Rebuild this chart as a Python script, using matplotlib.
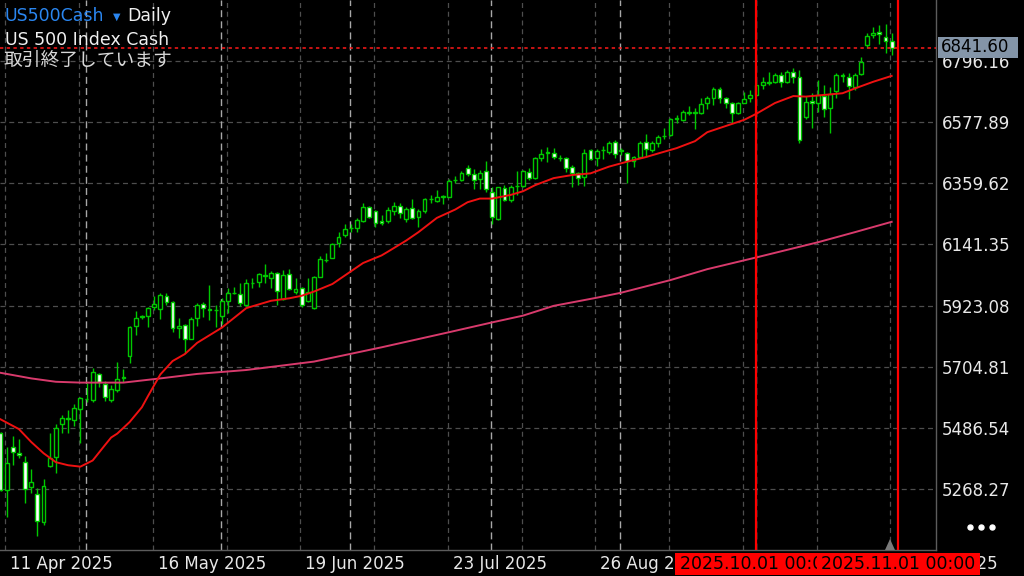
import matplotlib
import numpy as np
import pandas as pd

matplotlib.use("Agg")
import matplotlib.pyplot as plt  # noqa: E402
import matplotlib.transforms as mtransforms  # noqa: E402
from matplotlib.lines import Line2D  # noqa: E402
from matplotlib.patches import Polygon, Rectangle  # noqa: E402

plt.rcParams['font.family'] = ['DejaVu Sans', 'Noto Sans CJK JP']

# US500Cash daily bars, 10 Apr - 31 Oct 2025 (no bar on Good Friday)
DATES = pd.bdate_range("2025-04-10", "2025-10-31")
DATES = DATES[DATES != pd.Timestamp("2025-04-18")]

OPEN = [5468, 5265, 5417, 5395, 5366, 5276, 5249, 5152, 5351, 5381,
        5499, 5519, 5515, 5553, 5589, 5586, 5679, 5642, 5586, 5622,
        5664, 5743, 5850, 5882, 5886, 5917, 5910, 5958, 5937, 5842,
        5854, 5804, 5878, 5929, 5909, 5906, 5887, 5939, 5967, 5964,
        5925, 6003, 6008, 6030, 6020, 6038, 5947, 6036, 5973, 5985,
        5941, 5913, 6026, 6085, 6094, 6145, 6174, 6199, 6201, 6226,
        6276, 6262, 6226, 6226, 6262, 6279, 6231, 6270, 6238, 6262,
        6302, 6297, 6312, 6312, 6370, 6371, 6415, 6393, 6374, 6405,
        6330, 6231, 6342, 6300, 6349, 6351, 6401, 6377, 6449, 6469,
        6469, 6451, 6449, 6417, 6395, 6381, 6478, 6449, 6477, 6472,
        6508, 6475, 6469, 6440, 6452, 6508, 6478, 6502, 6527, 6532,
        6590, 6586, 6612, 6611, 6610, 6645, 6663, 6695, 6665, 6647,
        6610, 6647, 6663, 6675, 6711, 6719, 6722, 6746, 6722, 6758,
        6738, 6597, 6654, 6647, 6671, 6627, 6690, 6743, 6740, 6702,
        6750, 6853, 6889, 6901, 6881, 6869]
HIGH = [5472, 5419, 5458, 5447, 5386, 5339, 5271, 5305, 5467, 5502,
        5532, 5550, 5572, 5598, 5646, 5699, 5683, 5654, 5640, 5721,
        5696, 5850, 5905, 5889, 5919, 5957, 5967, 5967, 5939, 5878,
        5857, 5883, 5931, 5937, 5997, 5925, 5949, 5985, 5988, 6005,
        6018, 6020, 6040, 6071, 6048, 6044, 6050, 6053, 6020, 5988,
        6020, 6029, 6100, 6110, 6145, 6187, 6214, 6214, 6235, 6288,
        6279, 6264, 6246, 6274, 6294, 6288, 6274, 6304, 6267, 6306,
        6318, 6336, 6318, 6374, 6386, 6404, 6425, 6410, 6407, 6439,
        6345, 6347, 6354, 6354, 6405, 6407, 6413, 6452, 6481, 6490,
        6485, 6461, 6455, 6425, 6401, 6481, 6481, 6481, 6493, 6512,
        6514, 6485, 6472, 6457, 6511, 6536, 6512, 6532, 6558, 6592,
        6603, 6621, 6637, 6629, 6663, 6671, 6702, 6702, 6669, 6651,
        6651, 6687, 6693, 6719, 6738, 6758, 6752, 6758, 6764, 6770,
        6764, 6671, 6683, 6728, 6711, 6704, 6752, 6754, 6752, 6752,
        6812, 6895, 6917, 6925, 6928, 6895]
LOW = [5262, 5169, 5354, 5379, 5217, 5255, 5100, 5140, 5348, 5326,
       5467, 5467, 5493, 5431, 5580, 5580, 5633, 5583, 5579, 5616,
       5651, 5717, 5818, 5874, 5848, 5907, 5874, 5925, 5830, 5806,
       5753, 5803, 5850, 5881, 5872, 5846, 5857, 5898, 5963, 5922,
       5922, 5985, 5988, 6003, 5985, 5925, 5943, 5979, 5964, 5917,
       5937, 5910, 6024, 6080, 6092, 6133, 6169, 6187, 6187, 6223,
       6235, 6205, 6211, 6219, 6246, 6235, 6223, 6231, 6205, 6253,
       6290, 6294, 6286, 6310, 6360, 6369, 6386, 6338, 6338, 6330,
       6214, 6229, 6297, 6294, 6318, 6347, 6371, 6374, 6440, 6437,
       6445, 6440, 6401, 6347, 6354, 6350, 6443, 6421, 6445, 6464,
       6449, 6461, 6362, 6417, 6449, 6457, 6472, 6488, 6517, 6528,
       6576, 6582, 6603, 6553, 6607, 6624, 6639, 6647, 6627, 6574,
       6607, 6645, 6651, 6671, 6695, 6711, 6717, 6704, 6719, 6719,
       6505, 6588, 6556, 6615, 6595, 6538, 6663, 6722, 6659, 6693,
       6746, 6842, 6877, 6857, 6824, 6818]
CLOSE = [5265, 5360, 5399, 5391, 5267, 5292, 5155, 5280, 5378, 5487,
         5520, 5521, 5556, 5594, 5591, 5686, 5651, 5596, 5624, 5662,
         5667, 5847, 5880, 5884, 5913, 5929, 5961, 5937, 5842, 5850,
         5803, 5875, 5925, 5913, 5906, 5908, 5939, 5969, 5969, 5931,
         6003, 6005, 6036, 6032, 6038, 5976, 6031, 5981, 5981, 5925,
         5973, 6026, 6089, 6087, 6142, 6169, 6195, 6201, 6229, 6276,
         6240, 6219, 6219, 6264, 6279, 6255, 6267, 6235, 6261, 6304,
         6304, 6312, 6314, 6369, 6372, 6395, 6393, 6371, 6395, 6338,
         6238, 6345, 6300, 6345, 6351, 6404, 6377, 6449, 6464, 6471,
         6452, 6449, 6413, 6397, 6377, 6469, 6445, 6476, 6479, 6505,
         6464, 6477, 6440, 6452, 6505, 6481, 6502, 6526, 6529, 6588,
         6592, 6613, 6614, 6613, 6642, 6663, 6695, 6663, 6645, 6610,
         6647, 6659, 6675, 6711, 6720, 6721, 6746, 6722, 6758, 6738,
         6514, 6651, 6647, 6675, 6624, 6678, 6746, 6745, 6707, 6746,
         6794, 6885, 6897, 6893, 6869, 6841.6]

# moving averages: bar index -> value
MA_FAST_IDX = [0, 3, 5, 7, 9, 11, 13, 15, 17, 18, 19, 21, 23, 24, 26, 28,
               30, 32, 36, 40, 44, 47, 49, 51, 54, 56, 59, 62, 63, 66, 68,
               71, 74, 76, 78, 80, 83, 85, 87, 90, 93, 96, 99, 102, 105,
               107, 110, 113, 115, 118, 121, 123, 126, 129, 131, 134, 137,
               139, 142, 145]
MA_FAST = [5517, 5482, 5436, 5396, 5364, 5353, 5348, 5370, 5425, 5452,
           5466, 5507, 5560, 5600, 5677, 5725, 5750, 5790, 5844, 5914,
           5940, 5949, 5958, 5973, 6000, 6030, 6075, 6102, 6115, 6155,
           6185, 6236, 6266, 6292, 6305, 6305, 6318, 6331, 6353, 6378,
           6389, 6395, 6419, 6437, 6453, 6466, 6485, 6510, 6542, 6564,
           6586, 6608, 6646, 6671, 6669, 6675, 6681, 6698, 6722, 6743]
MA_SLOW_IDX = [0, 5, 9, 13, 20, 26, 32, 40, 51, 62, 73, 80, 85, 90, 97,
               101, 109, 115, 123, 133, 139, 145]
MA_SLOW = [5683, 5663, 5651, 5648, 5648, 5663, 5679, 5693, 5723, 5774,
           5828, 5863, 5887, 5922, 5951, 5969, 6014, 6053, 6095, 6149,
           6185, 6222]

PRICE_TICKS = [6796.16, 6577.89, 6359.62, 6141.35, 5923.08, 5704.81,
               5486.54, 5268.27]
LAST_PRICE = 6841.60
VLINES = ["2025.10.01 00:00", "2025.11.01 00:00"]

W, H = 1024, 576
PLOT_W, PLOT_H = 936, 550          # chart window in pixels
BAR_PX, FIRST_PX = 6.146, 0.5      # bar spacing / first bar centre
GREEN = '#00c800'
GRID = '#4e4e4e'
TXT = '#e8e8e8'


def fx(px):
    return px / W


def fy(py):
    return 1 - py / H


def bar_px(i):
    return FIRST_PX + i * BAR_PX


fig = plt.figure(figsize=(W / 100, H / 100), dpi=100, facecolor='black')
ax = fig.add_axes([0, fy(PLOT_H), fx(PLOT_W), PLOT_H / H])
ax.set_facecolor('black')
ax.set_xlim(-FIRST_PX / BAR_PX, (PLOT_W - FIRST_PX) / BAR_PX)
ax.set_ylim(5050.4, 7013.9)

x = np.arange(len(DATES))
o, h, l, c = map(np.asarray, (OPEN, HIGH, LOW, CLOSE))

# grid: regular every 12 bars + monthly period separators
for yv in PRICE_TICKS:
    ax.axhline(yv, color=GRID, lw=0.9, ls=(0, (4, 3)), zorder=0)
for i in range(1, len(x), 12):
    ax.axvline(i - 0.2, color=GRID, lw=0.9, ls=(0, (4, 3)), zorder=0)
months = DATES.month.values
for i in np.where(months[1:] != months[:-1])[0] + 1:
    ax.axvline(i - 0.15, color='#a8a8a8', lw=1.0, ls=(0, (5, 3)), zorder=0)

# candles
ax.vlines(x, l, h, color=GREEN, lw=1, zorder=2)
bull = c >= o
ax.bar(x, np.abs(c - o), bottom=np.minimum(o, c), width=0.62,
       color=np.where(bull, 'black', 'white'), edgecolor=GREEN, lw=1,
       zorder=3)

ax.plot(MA_SLOW_IDX, MA_SLOW, color='#d83a6c', lw=1.4, zorder=4)
ax.plot(MA_FAST_IDX, MA_FAST, color='#ee1111', lw=1.4, zorder=4)

ax.axhline(LAST_PRICE, color='#ff1a1a', lw=1.1, ls=(0, (2.2, 2.2)), zorder=5)
vpos = [np.searchsorted(DATES, pd.Timestamp(v[:10].replace('.', '-')))
        for v in VLINES]
for p in vpos:
    ax.axvline(p, color='#ff0000', lw=1.6, zorder=6)

for s in ('top', 'left'):
    ax.spines[s].set_visible(False)
for s in ('bottom', 'right'):
    ax.spines[s].set_color('#5c5c5c')
    ax.spines[s].set_linewidth(1)

ax.yaxis.tick_right()
ax.set_yticks(PRICE_TICKS)
ax.set_yticklabels([f"{v:.2f}" for v in PRICE_TICKS])
ax.tick_params(axis='y', length=0, pad=4, labelsize=12, labelcolor=TXT)
ax.set_xticks([])

# red labels of the vertical lines (later one drawn over the earlier one)
boxes = []
for k, (p, txt) in enumerate(zip(vpos, VLINES)):
    cx = bar_px(p)
    boxes.append((cx - 81, cx + 82))
    fig.add_artist(Rectangle((fx(cx - 81), fy(575)), fx(163), 22 / H,
                             transform=fig.transFigure, color='#ff0000',
                             lw=0, zorder=5 + 2 * k))
    t = fig.text(fx(cx + 0.5), fy(564), txt, color='black', fontsize=12.5,
                 ha='center', va='center', zorder=6 + 2 * k)
    if k < len(vpos) - 1:
        nxt = bar_px(vpos[k + 1]) - 81
        t.set_clip_box(mtransforms.Bbox([[cx - 81, 0], [nxt, H]]))
        t.set_clip_on(True)

# date labels every 24 bars, left-aligned at the bar; cut by the red tags
blend = mtransforms.blended_transform_factory(ax.transData, fig.transFigure)
shift = mtransforms.ScaledTranslation(0.035, 0, fig.dpi_scale_trans)
tag_l, tag_r = boxes[0][0], boxes[-1][1]
LABEL_W = 105
for i in range(1, len(x), 24):
    start = bar_px(i) + 3.5
    end = start + LABEL_W
    if start >= tag_l and end <= tag_r:
        continue                      # fully hidden under the tags
    t = fig.text(i, fy(564), DATES[i].strftime("%d %b %Y"), color=TXT,
                 fontsize=12, ha='left', va='center',
                 transform=blend + shift, zorder=4)
    if start < tag_l < end:
        t.set_clip_box(mtransforms.Bbox([[0, 0], [tag_l, H]]))
        t.set_clip_on(True)
    elif start < tag_r < end:
        t.set_clip_box(mtransforms.Bbox([[tag_r, 0], [W, H]]))
        t.set_clip_on(True)

# last price tag
fig.add_artist(Rectangle((fx(938), fy(58)), fx(80), 21 / H,
                         transform=fig.transFigure, color='#8495a8', lw=0))
fig.text(fx(941), fy(47.5), f"{LAST_PRICE:.2f}", color='black',
         fontsize=12, va='center', ha='left')

# header
fig.text(fx(5), fy(16), "US500Cash", color='#2a86f0', fontsize=12.5,
         va='center')
fig.text(fx(113), fy(17), "\u25bc", color='#2a86f0', fontsize=7,
         va='center')
fig.text(fx(127), fy(16), "Daily", color='#f0f0f0', fontsize=12.5,
         va='center')
fig.text(fx(5), fy(40), "US 500 Index Cash", color='#f0f0f0', fontsize=12.5,
         va='center')
fig.text(fx(4), fy(60), "取引終了しています", color='#d8d8d8', fontsize=13.5,
         va='center', family=['Noto Sans CJK JP', 'DejaVu Sans'])

# chart shift marker and menu dots
fig.add_artist(Polygon([(fx(885), fy(550)), (fx(895), fy(550)),
                        (fx(890), fy(539))], closed=True,
                       transform=fig.transFigure, color='#7a7a7a', lw=0))
fig.add_artist(Line2D([fx(970), fx(980.5), fx(991.5)], [fy(527)] * 3,
                      transform=fig.transFigure, ls='none', marker='o',
                      ms=3.6, color='white'))

fig.savefig("out.png", dpi=100, facecolor='black')
print("wrote out.png")
